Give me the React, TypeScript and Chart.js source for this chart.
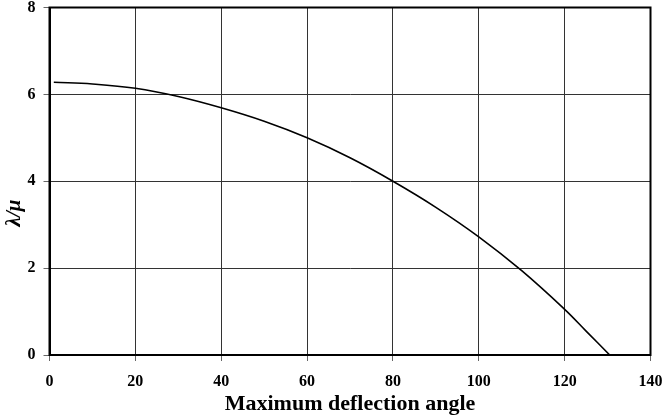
import React, { useEffect, useRef } from "react";
import { Chart, registerables } from "chart.js";

Chart.register(...registerables);

const angles = [1, 10, 20, 30, 40, 50, 60, 70, 80, 90, 100, 110, 120, 125, 130.5];
const ratios = [6.28, 6.24, 6.14, 5.95, 5.69, 5.38, 5.0, 4.54, 4.0, 3.4, 2.72, 1.94, 1.05, 0.55, 0];
const xTitle = "Maximum deflection angle";
const yTitle = "λ/μ";

const FONT = "'Liberation Serif', 'Times New Roman', serif";

export default function App() {
  const ref = useRef<HTMLCanvasElement>(null);
  useEffect(() => {
    const frame = {
      id: "frame",
      afterDraw(chart: any) {
        const { ctx, chartArea: a } = chart;
        ctx.save();
        ctx.strokeStyle = "#000";
        ctx.lineWidth = 2;
        ctx.strokeRect(a.left, a.top, a.right - a.left, a.bottom - a.top);
        ctx.fillStyle = "#000";
        ctx.font = `italic bold 21px ${FONT}`;
        ctx.translate(15, 213);
        ctx.rotate(-Math.PI / 2);
        ctx.textAlign = "center";
        ctx.textBaseline = "middle";
        ctx.fillText(yTitle, 0, 0);
        ctx.restore();
      },
    };
    const chart = new Chart(ref.current!, {
      type: "line",
      data: {
        datasets: [
          {
            data: angles.map((x, i) => ({ x, y: ratios[i] })),
            borderColor: "#000",
            borderWidth: 1.6,
            pointRadius: 0,
            tension: 0.4,
            fill: false,
          },
        ],
      },
      options: {
        animation: false,
        responsive: false,
        maintainAspectRatio: false,
        layout: { padding: { top: 7.5, right: 12.5, left: 0, bottom: 0 } },
        plugins: { legend: { display: false }, tooltip: { enabled: false } },
        scales: {
          x: {
            type: "linear",
            min: 0,
            max: 140,
            ticks: {
              stepSize: 20,
              color: "#000",
              font: { family: FONT, size: 16, weight: "bold" },
              padding: 11,
              maxRotation: 0,
            },
            grid: { color: "#333", lineWidth: 1, tickLength: 6, tickColor: "#666" },
            border: { color: "#000", width: 2 },
            title: {
              display: true,
              text: xTitle,
              color: "#000",
              font: { family: FONT, size: 22, weight: "bold", lineHeight: 1 },
              padding: { top: 0, bottom: 4 },
            },
            afterFit: (s: any) => {
              s.height = 64;
              s.paddingLeft = 0;
              s.paddingRight = 0;
            },
          },
          y: {
            min: 0,
            max: 8,
            ticks: {
              stepSize: 2,
              color: "#000",
              font: { family: FONT, size: 16, weight: "bold" },
              padding: 8,
            },
            grid: { color: "#333", lineWidth: 1, tickLength: 6, tickColor: "#666" },
            border: { color: "#000", width: 2 },
            afterFit: (s: any) => {
              s.width = 49.5;
              s.paddingTop = 0;
              s.paddingBottom = 0;
            },
          },
        },
      },
      plugins: [frame],
    });
    return () => chart.destroy();
  }, []);
  return (
    <div style={{ position: "fixed", left: 0, top: 0, width: 663, height: 419, background: "#fff" }}>
      <canvas ref={ref} width={663} height={419} />
    </div>
  );
}
